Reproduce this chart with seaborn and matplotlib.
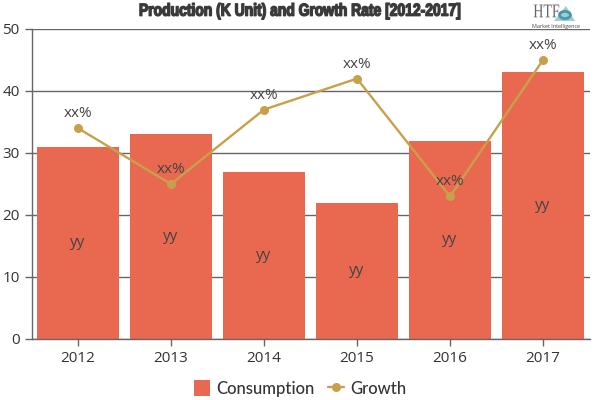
import matplotlib
matplotlib.use('Agg')
import matplotlib.pyplot as plt
import matplotlib.patheffects as pe
from matplotlib.patches import Circle, Polygon
from matplotlib.transforms import Affine2D
import seaborn as sns
import pandas as pd

# Data
years = ['2012', '2013', '2014', '2015', '2016', '2017']
consumption = [31, 33, 27, 22, 32, 43]
growth = [34, 25, 37, 42, 23, 45]
bar_labels = ['yy'] * 6
line_labels = ['xx%'] * 6
y_ticks = [0, 10, 20, 30, 40, 50]

df = pd.DataFrame({'year': years, 'Consumption': consumption, 'Growth': growth})


class Squeeze(pe.AbstractPathEffect):
    # narrows the glyphs around a pixel x, no condensed font is installed
    def __init__(self, cx, sx, stroke):
        super().__init__()
        self.cx, self.sx, self.stroke = cx, sx, stroke

    def draw_path(self, renderer, gc, tpath, affine, rgbFace):
        gc0 = renderer.new_gc()
        gc0.copy_properties(gc)
        gc0.set_linewidth(self.stroke)
        gc0.set_foreground(rgbFace)
        squeeze = Affine2D().translate(-self.cx, 0).scale(self.sx, 1).translate(self.cx, 0)
        renderer.draw_path(gc0, tpath, affine + squeeze, rgbFace)
        gc0.restore()


sns.set_theme(style='ticks')
plt.rcParams['font.family'] = ['Open Sans', 'DejaVu Sans']

fig, ax = plt.subplots(figsize=(6, 4), dpi=100)
fig.subplots_adjust(left=31.5 / 600, right=589.5 / 600, top=1 - 29 / 400, bottom=1 - 339 / 400)

# Bars
sns.barplot(data=df, x='year', y='Consumption', color='#e8694f', saturation=1,
            width=0.89, linewidth=0, label='Consumption', ax=ax, zorder=2, legend=False)
ax.bar_label(ax.containers[0], labels=bar_labels, label_type='center', fontsize=11,
             color='#444444', zorder=5)

# Line
sns.lineplot(data=df, x='year', y='Growth', color='#c9a04a', linewidth=1.7, marker='o',
             markersize=6.5, markeredgewidth=0, label='Growth', ax=ax, zorder=4, legend=False)
for year, g, txt in zip(years, growth, line_labels):
    ax.annotate(txt, (year, g), xytext=(0, 5), textcoords='offset points', ha='center',
                va='bottom', fontsize=11, color='#444444', zorder=6)

# Axes
ax.set_xlim(-0.5, 5.5)
ax.set_ylim(0, 50)
ax.set_yticks(y_ticks)
ax.set_xlabel('')
ax.set_ylabel('')
ax.grid(axis='y', color='#666666', linewidth=1, zorder=0)
ax.set_axisbelow(True)
ax.tick_params(axis='both', labelsize=11, color='#666666', labelcolor='#333333', length=5, width=1)
sns.despine(ax=ax, top=True, right=True)
for side in ['left', 'bottom']:
    ax.spines[side].set_color('#666666')
    ax.spines[side].set_linewidth(1)

# Title
title = fig.text(0.501, 0.972, 'Production (K Unit) and Growth Rate [2012-2017]', ha='center', va='center',
                 fontsize=12.5, fontweight='bold', color='#3a3a3a',
                 family=['Liberation Sans', 'DejaVu Sans'])
title.set_path_effects([Squeeze(300, 0.8, 1.0)])

# Logo, top right
htf = fig.text(0.889, 0.968, 'HTF', ha='left', va='center', fontsize=14, color='#666666',
               family=['Liberation Serif', 'DejaVu Serif'])
htf.set_path_effects([Squeeze(533, 0.72, 0)])
fig.text(0.887, 0.934, 'Market Intelligence', ha='left', va='center', fontsize=3.9, color='#444444')
to_fig = fig.transFigure
fig.add_artist(Circle((565 / 600, 1 - 15 / 400), 0.009, transform=to_fig, fill=False,
                      edgecolor='#3d86b8', linewidth=2))
fig.add_artist(Polygon([(554 / 600, 1 - 21 / 400), (566 / 600, 1 - 6 / 400), (575 / 600, 1 - 21 / 400)],
                       transform=to_fig, closed=True, facecolor='#4fa8a8', edgecolor='none', alpha=0.55))

# Legend, bar first
handles, labels = ax.get_legend_handles_labels()
order = [labels.index('Consumption'), labels.index('Growth')]
fig.legend([handles[i] for i in order], [labels[i] for i in order], loc='lower center',
           bbox_to_anchor=(0.5, -0.03), ncol=2, frameon=False,
           handlelength=1.0, handleheight=1.1, columnspacing=0.8, handletextpad=0.35,
           labelcolor='#333333', prop={'family': 'Lato', 'size': 12, 'weight': 'medium'})

fig.savefig('out.png', dpi=100)
